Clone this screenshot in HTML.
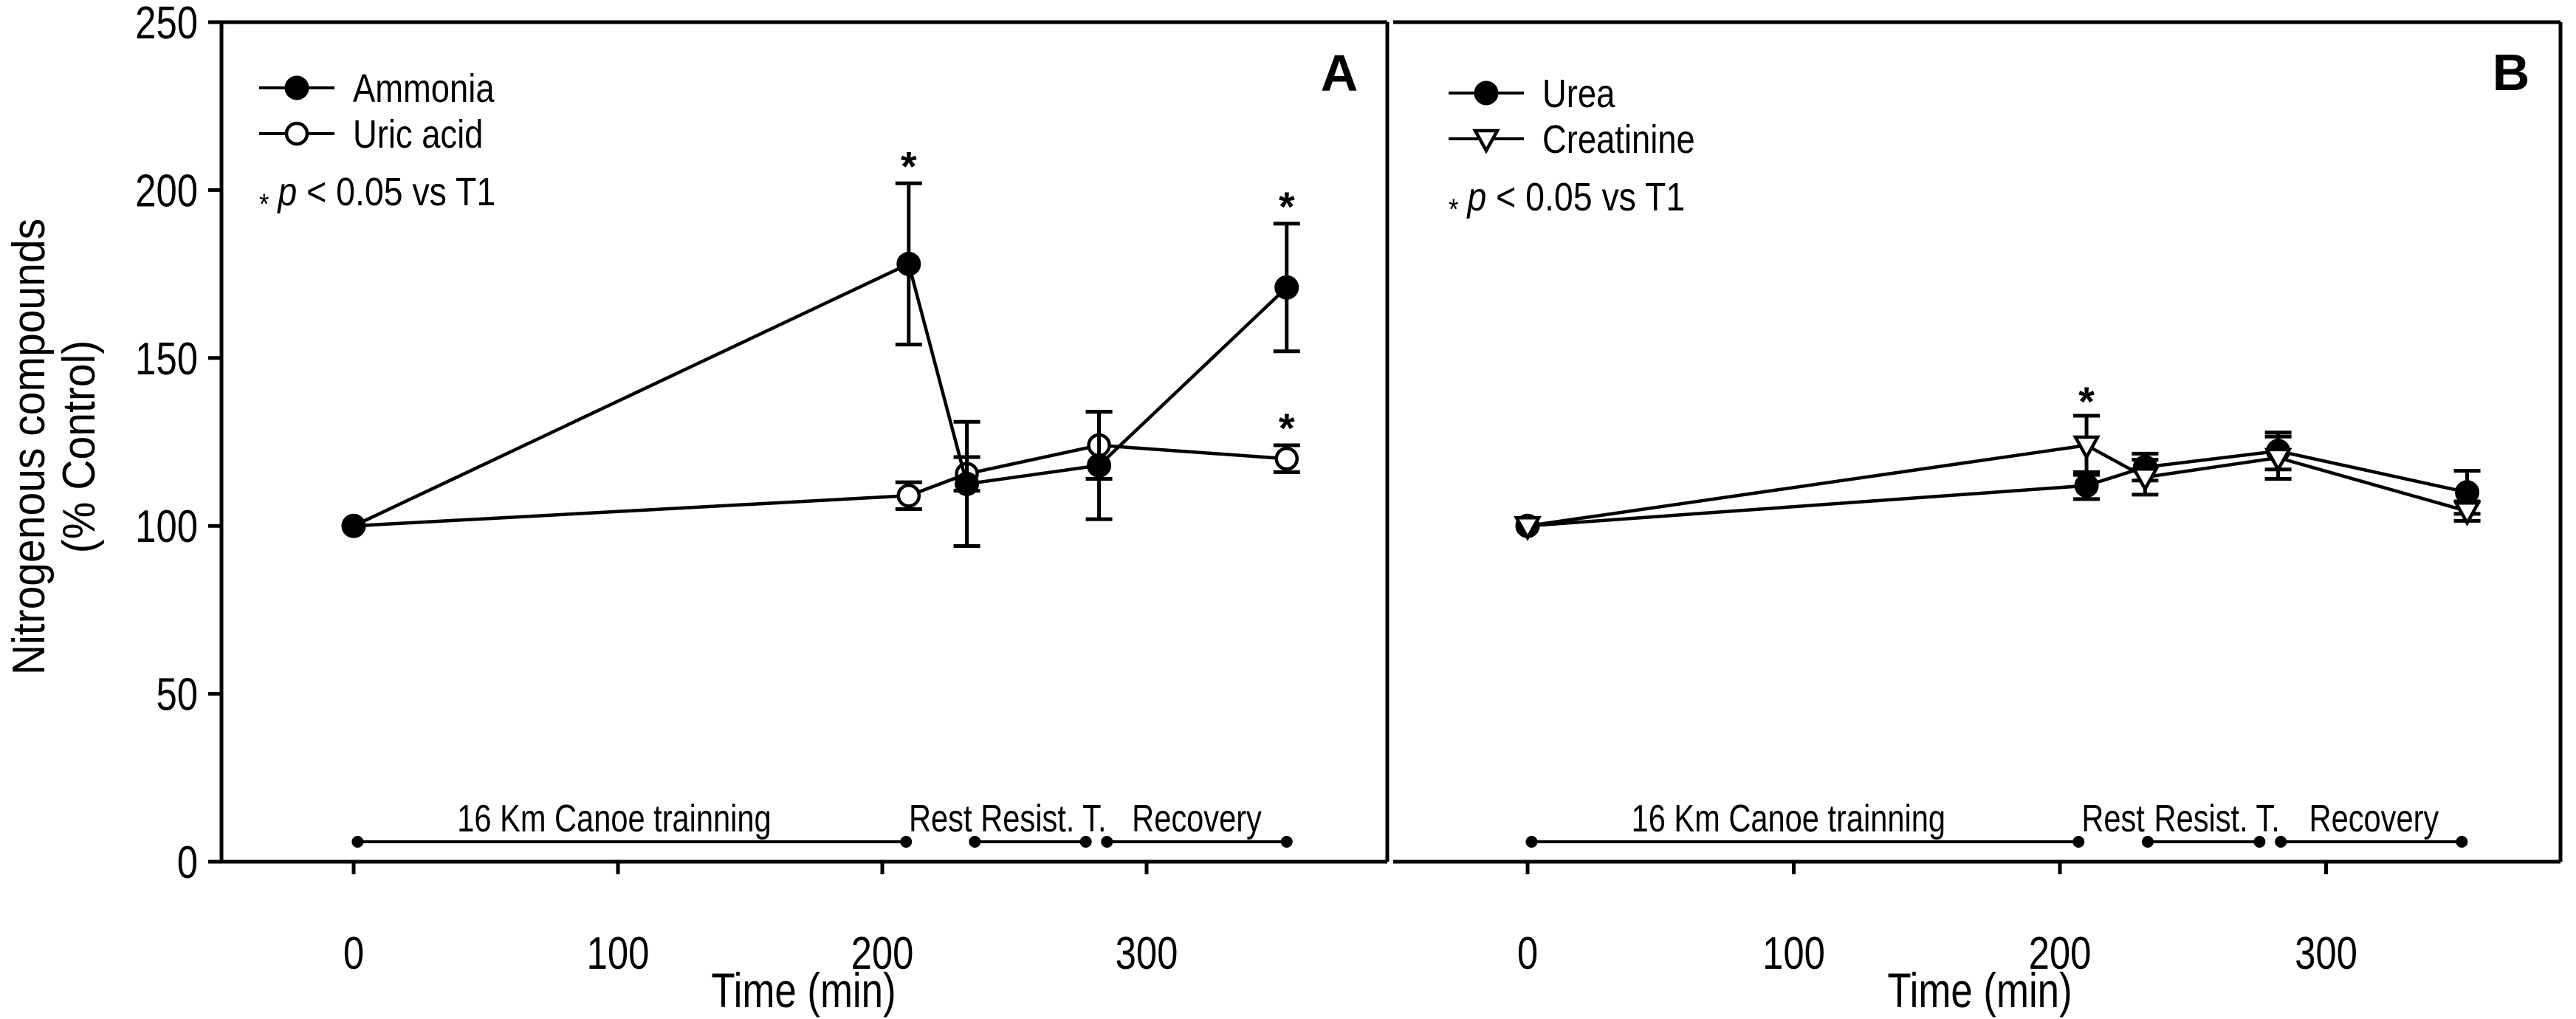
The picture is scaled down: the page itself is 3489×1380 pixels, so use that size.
<!DOCTYPE html>
<html><head><meta charset="utf-8"><style>
html,body{margin:0;padding:0;background:#fff}
svg{display:block}
text{font-family:"Liberation Sans",sans-serif;fill:#000}
</style></head><body>
<svg id="chart" width="3489" height="1380" viewBox="0 0 3489 1380" xmlns="http://www.w3.org/2000/svg">
<rect x="0" y="0" width="3489" height="1380" fill="#fff"/>
<g id="root"></g>
</svg>
<script>
const xTicks = [0, 100, 200, 300];
const yTicks = [0, 50, 100, 150, 200, 250];
const timeA = [0, 210, 232, 282, 353];
const ammoniaMean = [100, 178, 112.5, 118, 171];
const ammoniaErr = [0, 24, 18.5, 16, 19];
const uricMean = [100, 109, 115.5, 124, 120];
const uricErr = [0, 4, 5, 10, 4];
const ureaMean = [100, 112, 117.5, 122.3, 110];
const ureaErr = [0, 4, 4, 5.5, 6.4];
const creatMean = [100, 124, 114.5, 120.3, 104.4];
const creatErr = [0, 8.8, 5.2, 6.3, 2.9];
const sigA = [[210, 209], [353, 197], [353, 131]];
const sigB = [[210, 139]];
const phaseLabels = ["16 Km Canoe trainning", "Rest", "Resist. T.", "Recovery"];
const phaseLabelXA = [98.6, 222, 261, 319];
const phaseLabelXB = [98, 220, 259, 318];
const phaseDotsA = [[1.5, 209], [235, 277], [285, 353]];
const phaseDotsB = [[1.5, 207], [233, 275], [283, 351]];

const NS = "http://www.w3.org/2000/svg";
const root = document.getElementById('root');
function el(tag, attrs, parent, text) {
  const e = document.createElementNS(NS, tag);
  for (const k in attrs) e.setAttribute(k, attrs[k]);
  if (text !== undefined) e.textContent = text;
  (parent || root).appendChild(e);
  return e;
}
function sx(e, x, s) {
  e.setAttribute('transform', `translate(${x},0) scale(${s},1) translate(${-x},0)`);
}
const yTop = 30, yBot = 1167;
function Y(v) { return yBot - v * (yBot - yTop) / 250; }
const panels = {
  A: { x0: 479, ppu: 3.58, left: 300, right: 1879 },
  B: { x0: 2069, ppu: 3.605, left: 1887, right: 3468 }
};
function makeX(p) { return v => p.x0 + v * p.ppu; }

function frame(p, name, leftAxis) {
  const g = el('g', {});
  
  
  const X = makeX(p);
  el('line', { x1: leftAxis ? 282 : p.left, y1: yBot, x2: p.right, y2: yBot, stroke: '#000', 'stroke-width': 5 }, g);
  el('line', { x1: p.left, y1: yTop, x2: p.right, y2: yTop, stroke: '#000', 'stroke-width': 5 }, g);
  el('line', { x1: p.right, y1: yTop, x2: p.right, y2: yBot, stroke: '#000', 'stroke-width': 5 }, g);
  if (leftAxis) {
    el('line', { x1: p.left, y1: yTop - 2, x2: p.left, y2: yBot, stroke: '#000', 'stroke-width': 5 }, g);
    yTicks.forEach(t => {
      el('line', { x1: 282, y1: Y(t), x2: p.left, y2: Y(t), stroke: '#000', 'stroke-width': 5 }, g);
      const tl = el('text', { x: 268, y: Y(t) + 22, 'font-size': 62, 'text-anchor': 'end' }, g, String(t));
      sx(tl, 268, 0.82);
      
      
    });
  }
  xTicks.forEach(t => {
    el('line', { x1: X(t), y1: yBot, x2: X(t), y2: yBot + 17, stroke: '#000', 'stroke-width': 5 }, g);
    const tl = el('text', { x: X(t), y: 1312, 'font-size': 62, 'text-anchor': 'middle' }, g, String(t));
    sx(tl, X(t), 0.82);
    
    
  });
  const cx = (p.left + p.right) / 2 + (leftAxis ? -1 : 4);
  const xt = el('text', { x: cx, y: 1364, 'font-size': 66, 'text-anchor': 'middle' }, g, 'Time (min)');
  sx(xt, cx, 0.8);
  
  
}

function series(p, name, times, mean, err, marker) {
  const X = makeX(p);
  const g = el('g', {});
  
  
  const pts = times.map((t, i) => X(t) + ',' + Y(mean[i])).join(' ');
  el('polyline', { points: pts, fill: 'none', stroke: '#000', 'stroke-width': 4.5 }, g);
  times.forEach((t, i) => {
    if (err[i] > 0) {
      const x = X(t), y1 = Y(mean[i] + err[i]), y2 = Y(mean[i] - err[i]);
      const eb = el('path', { d: `M${x},${y1}V${y2}M${x - 18},${y1}H${x + 18}M${x - 18},${y2}H${x + 18}`, stroke: '#000', 'stroke-width': 5, fill: 'none' }, g);
      
      
    }
  });
  times.forEach((t, i) => {
    drawMarker(g, marker, X(t), Y(mean[i]), name + '-point');
  });
}
function drawMarker(g, marker, x, y, nm) {
  let m;
  if (marker === 'filled') m = el('circle', { cx: x, cy: y, r: 15, fill: '#000', stroke: '#000', 'stroke-width': 3 }, g);
  else if (marker === 'open') m = el('circle', { cx: x, cy: y, r: 14, fill: '#fff', stroke: '#000', 'stroke-width': 4.5 }, g);
  else m = el('path', { d: `M${x - 15},${y - 11}H${x + 15}L${x},${y + 16}Z`, fill: '#fff', stroke: '#000', 'stroke-width': 4.5 }, g);
  
  
}

function timeline(p, dots, labelX, name) {
  const X = makeX(p);
  const g = el('g', {});
  
  
  const ty = 1140;
  dots.forEach(d => {
    el('line', { x1: X(d[0]), y1: ty, x2: X(d[1]), y2: ty, stroke: '#000', 'stroke-width': 4 }, g);
    el('circle', { cx: X(d[0]), cy: ty, r: 8, fill: '#000' }, g);
    el('circle', { cx: X(d[1]), cy: ty, r: 8, fill: '#000' }, g);
  });
  phaseLabels.forEach((l, i) => {
    const t = el('text', { x: X(labelX[i]), y: 1126, 'font-size': 52, 'text-anchor': 'middle' }, g, l);
    sx(t, X(labelX[i]), 0.8);
    
    
  });
}

function stars(p, arr) {
  const X = makeX(p);
  arr.forEach(s => {
    const t = el('text', { x: X(s[0]), y: Y(s[1]) + 28, 'font-size': 56, 'font-weight': 'bold', 'text-anchor': 'middle' }, root, '*');
    
    
  });
}

function legend(x, y, items, panelLetter, lx, ly) {
  const g = el('g', {});
  
  
  items.forEach((it, i) => {
    const yy = y + i * 62;
    el('line', { x1: x, y1: yy, x2: x + 102, y2: yy, stroke: '#000', 'stroke-width': 4 }, g);
    drawMarker(g, it[1], x + 51, yy, 'legend-marker');
    const t = el('text', { x: x + 127, y: yy + 19, 'font-size': 54 }, g, it[0]);
    sx(t, x + 127, 0.84);
    
    
  });
  const yy = y + 2 * 62 + 16;
  const t = el('text', { x: x, y: yy + 19, 'font-size': 54 }, g);
  el('tspan', { 'font-size': 40, dy: 12 }, t, '*');
  el('tspan', { dx: 14, dy: -12, 'font-style': 'italic' }, t, 'p');
  el('tspan', {}, t, ' < 0.05 vs T1');
  sx(t, x, 0.86);
  
  
  const L = el('text', { x: lx, y: ly, 'font-size': 70, 'font-weight': 'bold', 'text-anchor': 'middle' }, root, panelLetter);
  
  
}

frame(panels.A, 'panel-a', true);
frame(panels.B, 'panel-b', false);
timeline(panels.A, phaseDotsA, phaseLabelXA, 'panel-a');
timeline(panels.B, phaseDotsB, phaseLabelXB, 'panel-b');
series(panels.A, 'uric-acid', timeA, uricMean, uricErr, 'open');
series(panels.A, 'ammonia', timeA, ammoniaMean, ammoniaErr, 'filled');
series(panels.B, 'urea', timeA, ureaMean, ureaErr, 'filled');
series(panels.B, 'creatinine', timeA, creatMean, creatErr, 'tri');
stars(panels.A, sigA);
stars(panels.B, sigB);
legend(351, 119, [['Ammonia', 'filled'], ['Uric acid', 'open']], 'A', 1814, 123);
legend(1962, 126, [['Urea', 'filled'], ['Creatinine', 'tri']], 'B', 3401, 122);

const yt = el('text', { transform: 'translate(60,605) rotate(-90) scale(0.92,1)', 'font-size': 62, 'text-anchor': 'middle' }, root, 'Nitrogenous compounds');


const yt2 = el('text', { transform: 'translate(128,605) rotate(-90) scale(0.92,1)', 'font-size': 62, 'text-anchor': 'middle' }, root, '(% Control)');


</script>
</body></html>
